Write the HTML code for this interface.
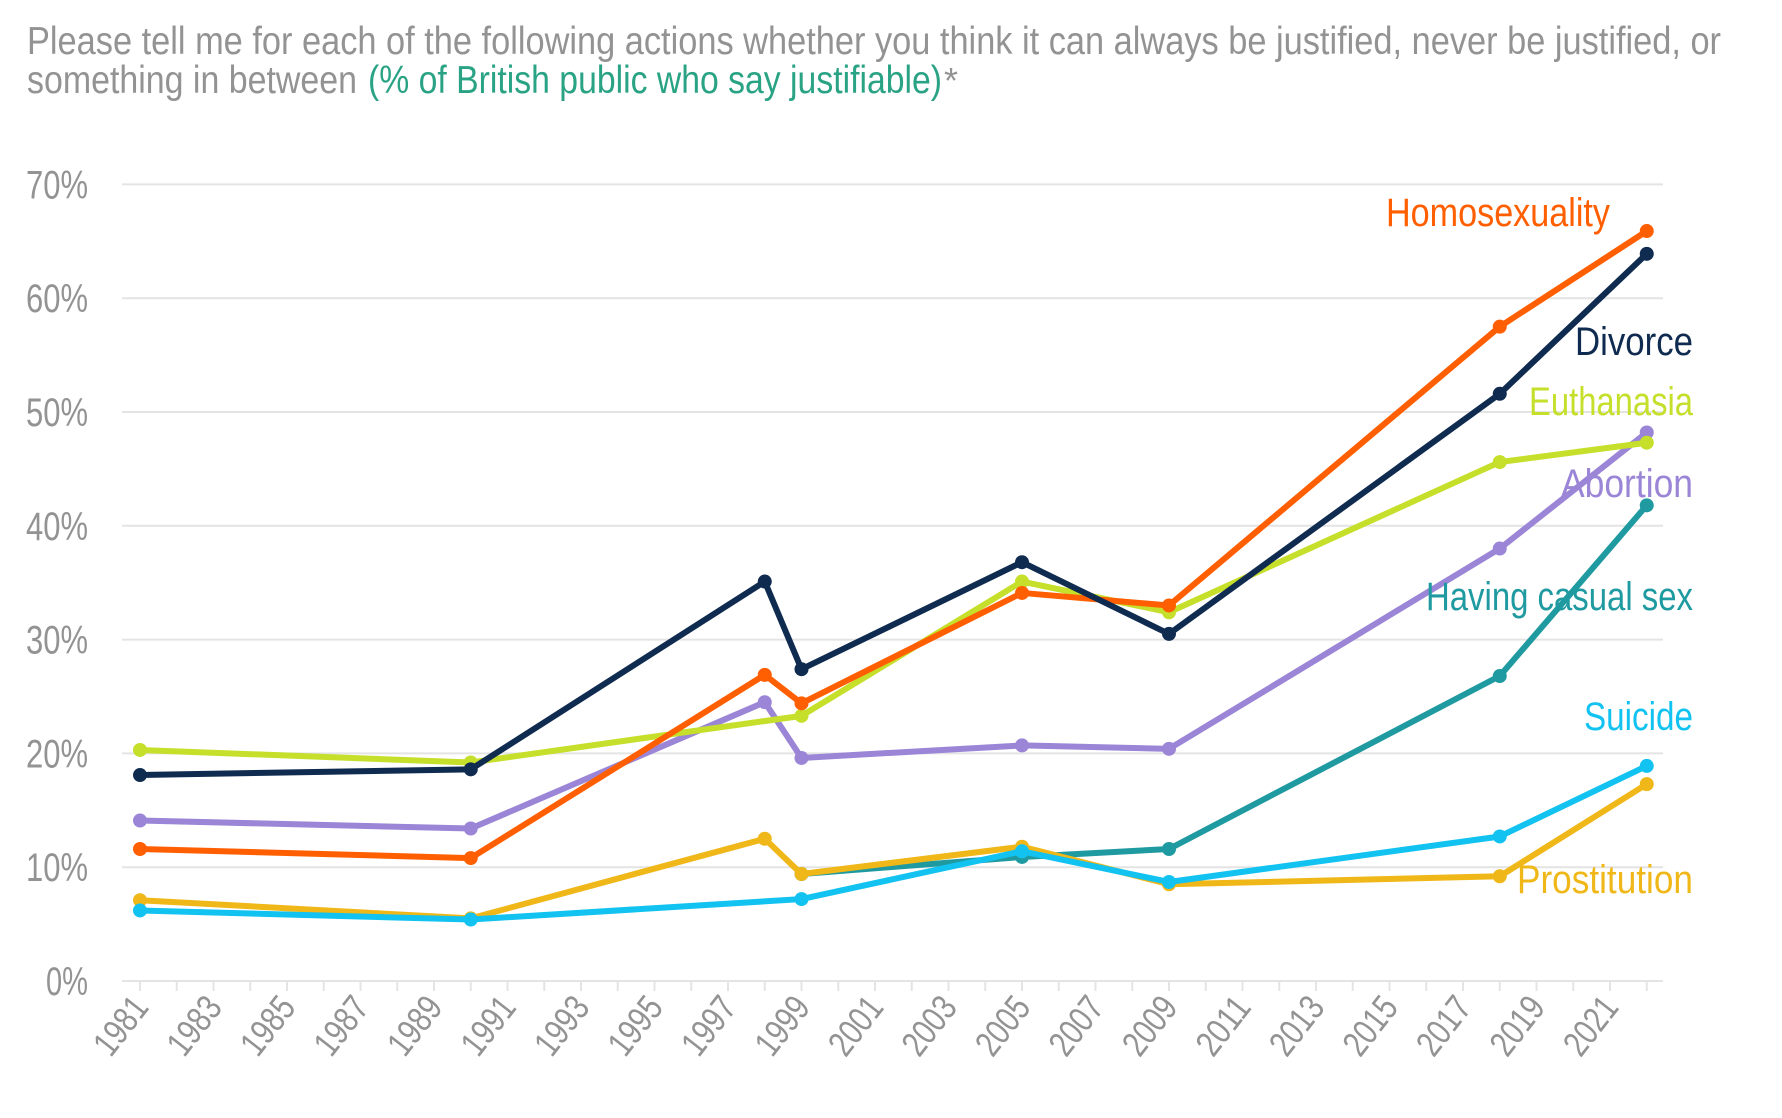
<!DOCTYPE html>
<html><head><meta charset="utf-8">
<style>
html,body{margin:0;padding:0;background:#fff;}
svg{display:block;font-family:"Liberation Sans Narrow","Liberation Sans",sans-serif;}
</style></head>
<body>
<svg id="chart" width="1782" height="1118" viewBox="0 0 1782 1118" xmlns="http://www.w3.org/2000/svg">
<g>
<text x="27" y="54" font-size="39" fill="#939393" textLength="1694" lengthAdjust="spacingAndGlyphs">Please tell me for each of the following actions whether you think it can always be justified, never be justified, or</text>
<text x="27" y="93" font-size="39" fill="#939393" textLength="330" lengthAdjust="spacingAndGlyphs">something in between</text>
<text x="368" y="93" font-size="39" fill="#2aa385" textLength="574" lengthAdjust="spacingAndGlyphs">(% of British public who say justifiable)</text>
<text x="944" y="93" font-size="36" fill="#939393">*</text>
</g>
<g id="grid"></g>
<g id="xaxis"></g>
<g id="series"></g>
<g id="labels"></g>
</svg>
<script>
const years = [1981,1990,1998,1999,2005,2009,2018,2022];
const seriesNames = ["Having casual sex","Prostitution","Suicide","Abortion","Euthanasia","Homosexuality","Divorce"];
const casualSex =     [null,null,null,9.4,10.9,11.6,26.8,41.8];
const prostitution =  [7.1,5.5,12.5,9.4,11.8,8.5,9.2,17.3];
const suicide =       [6.2,5.4,null,7.2,11.4,8.7,12.7,18.9];
const abortion =      [14.1,13.4,24.5,19.6,20.7,20.4,38.0,48.2];
const euthanasia =    [20.3,19.2,null,23.3,35.1,32.4,45.6,47.3];
const homosexuality = [11.6,10.8,26.9,24.4,34.1,33.0,57.5,65.9];
const divorce =       [18.1,18.6,35.1,27.4,36.8,30.5,51.6,63.9];
const yTicks = [0,10,20,30,40,50,60,70];
const xTickYears = [1981,1983,1985,1987,1989,1991,1993,1995,1997,1999,2001,2003,2005,2007,2009,2011,2013,2015,2017,2019,2021];

const NS="http://www.w3.org/2000/svg";
const x = yr => 140 + (yr-1981)*36.75;
const y = v => 981 - v*11.38;
function mk(tag, attrs, parent){const e=document.createElementNS(NS,tag);for(const k in attrs)e.setAttribute(k,attrs[k]);parent.appendChild(e);return e;}

const grid=document.getElementById('grid');
yTicks.forEach(t=>{
  const l=mk('line',{x1:122,x2:1663,y1:y(t),y2:y(t),stroke:'#e4e4e4','stroke-width':2},grid);
  
  
  const tx=mk('text',{x:88,y:y(t)+14,'text-anchor':'end','font-size':40,fill:'#939393',textLength:(t===0?42:62),lengthAdjust:'spacingAndGlyphs'},grid);
  tx.textContent=t+'%';
  
  
});
const xa=document.getElementById('xaxis');
for(let yr=1981;yr<=2022;yr++){
  const tk=mk('line',{x1:x(yr),x2:x(yr),y1:981,y2:991,stroke:'#e4e4e4','stroke-width':2},xa);
  
  
}
xTickYears.forEach(yr=>{
  const tx=mk('text',{x:x(yr)+10,y:1008,'text-anchor':'end','font-size':36,fill:'#939393',textLength:64,lengthAdjust:'spacingAndGlyphs',transform:`rotate(-52 ${x(yr)+10} 1008)`},xa);
  tx.textContent=yr;
  
  
});

const data=[casualSex,prostitution,suicide,abortion,euthanasia,homosexuality,divorce];
const colors=["#1f9aa0","#f0b718","#12c2f0","#9b85d6","#c5df2a","#ff5f00","#0f2b4f"];
const sg=document.getElementById('series');
data.forEach((vals,i)=>{
  const g=mk('g',{},sg);
  
  
  const pts=[];
  vals.forEach((v,j)=>{if(v!==null)pts.push([x(years[j]),y(v)]);});
  const p=mk('polyline',{points:pts.map(q=>q.join(',')).join(' '),fill:'none',stroke:colors[i],'stroke-width':6,'stroke-linejoin':'round'},g);
  
  
  pts.forEach(q=>{
    const c=mk('circle',{cx:q[0],cy:q[1],r:7,fill:colors[i]},g);
    
    
  });
});

const labelText=["Homosexuality","Divorce","Euthanasia","Abortion","Having casual sex","Suicide","Prostitution"];
const labelColor=["#ff5f00","#0f2b4f","#c5df2a","#9b85d6","#1f9aa0","#12c2f0","#f0b718"];
const labelPos=[[1610,226],[1693,355],[1693,415],[1693,497],[1693,610],[1693,730],[1693,893]];
const labelW=[224,118,164,132,267,109,176];
const lg=document.getElementById('labels');
labelText.forEach((t,i)=>{
  const tx=mk('text',{x:labelPos[i][0]-labelW[i],y:labelPos[i][1],'font-size':40,fill:labelColor[i],textLength:labelW[i],lengthAdjust:'spacingAndGlyphs'},lg);
  tx.textContent=t;
  
  
});
</script>
</body></html>
